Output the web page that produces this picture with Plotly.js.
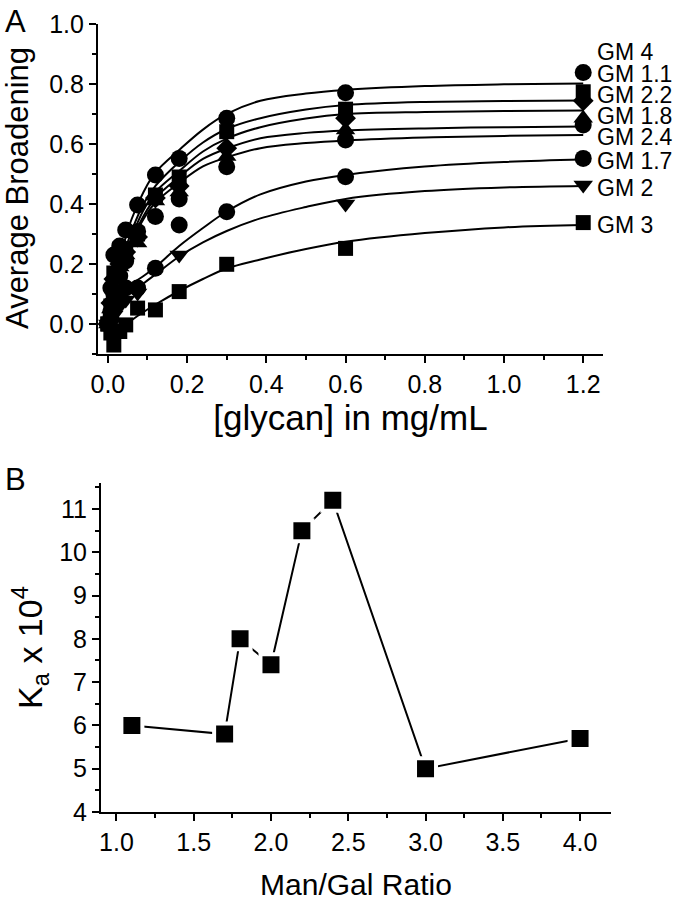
<!DOCTYPE html>
<html lang="en">
<head>
<meta charset="UTF-8">
<title>Glycan broadening and Ka</title>
<script src="https://cdn.plot.ly/plotly-3.0.1.min.js"></script>
<style>
  body { margin: 0; background: white; }
  #chart { width: 680px; height: 901px; }
</style>
</head>
<body>
<div id="chart"></div>
<script>
// Panel A: glycan concentration (mg/mL) vs average broadening
const conc = [0, 0.0075, 0.015, 0.03, 0.045, 0.075, 0.12, 0.18, 0.3, 0.6, 1.2];
const seriesNames = ['GM 4', 'GM 1.1', 'GM 2.2', 'GM 1.8', 'GM 2.4', 'GM 1.7', 'GM 2', 'GM 3'];
const gm4  = [0.0, 0.12, 0.23, 0.26, 0.313, 0.397, 0.497, 0.552, 0.686, 0.771, 0.838];
const gm11 = [0.0, 0.06, 0.17, 0.25, 0.25, 0.30, 0.43, 0.49, 0.641, 0.716, 0.774];
const gm22 = [0.0, 0.07, 0.15, 0.20, 0.24, 0.29, 0.42, 0.46, 0.586, 0.686, 0.744];
const gm18 = [0.0, 0.05, 0.12, 0.19, 0.23, 0.27, 0.41, 0.44, 0.558, 0.647, 0.686];
const gm24 = [0.0, 0.04, 0.10, 0.16, 0.21, 0.308, 0.358, 0.417, 0.524, 0.613, 0.663];
const gm17 = [0.0, 0.02, 0.06, 0.09, 0.12, 0.12, 0.186, 0.33, 0.374, 0.491, 0.552];
const gm2  = [0.0, 0.0, 0.03, 0.06, 0.08, 0.103, null, 0.23, null, 0.40, 0.463];
const gm3  = [0.0, -0.03, -0.07, -0.025, -0.003, 0.053, 0.047, 0.108, 0.199, 0.252, 0.338];

// fitted curves
const fitX    = [0.03, 0.06, 0.09, 0.12, 0.18, 0.24, 0.3, 0.385, 0.5, 0.6, 0.8, 1.0, 1.2];
const fitGm4  = [0.22, 0.35, 0.44, 0.505, 0.58, 0.648, 0.70, 0.744, 0.768, 0.78, 0.793, 0.799, 0.802];
const fitGm11 = [0.19, 0.31, 0.40, 0.46, 0.54, 0.605, 0.65, 0.686, 0.715, 0.73, 0.74, 0.743, 0.745];
const fitGm22 = [0.18, 0.29, 0.38, 0.44, 0.51, 0.575, 0.618, 0.656, 0.685, 0.70, 0.707, 0.71, 0.712];
const fitGm18 = [0.17, 0.28, 0.36, 0.42, 0.49, 0.55, 0.585, 0.619, 0.637, 0.645, 0.652, 0.656, 0.658];
const fitGm24 = [0.16, 0.27, 0.35, 0.405, 0.47, 0.525, 0.555, 0.586, 0.603, 0.612, 0.622, 0.627, 0.63];
const fitGm17 = [null, 0.135, 0.16, 0.19, 0.26, 0.32, 0.375, 0.432, 0.475, 0.497, 0.525, 0.54, 0.548];
const fitGm2  = [null, 0.10, 0.135, 0.165, 0.225, 0.272, 0.31, 0.352, 0.39, 0.417, 0.443, 0.455, 0.46];
const fitGm3  = [null, 0.013, 0.04, 0.065, 0.11, 0.15, 0.185, 0.215, 0.25, 0.274, 0.303, 0.322, 0.33];

// Panel B: Man/Gal ratio vs Ka x 10^4
const ratio = [1.1, 1.7, 1.8, 2.0, 2.2, 2.4, 3.0, 4.0];
const ka = [6.0, 5.8, 8.0, 7.4, 10.5, 11.2, 5.0, 5.7];

const points = [gm4, gm11, gm22, gm18, gm24, gm17, gm2, gm3];
const fits = [fitGm4, fitGm11, fitGm22, fitGm18, fitGm24, fitGm17, fitGm2, fitGm3];
const symbols = ['circle', 'square', 'diamond', 'triangle-up', 'circle', 'circle', 'triangle-down', 'square'];
const sizes = [17, 15, 16, 17, 17, 17, 17, 15];
const labelY = [0.907, 0.833, 0.763, 0.693, 0.623, 0.543, 0.453, 0.33];

const FONT = 'Liberation Sans, Arial, sans-serif';
const traces = [];

fits.forEach(function(f) {
  traces.push({
    x: fitX, y: f, mode: 'lines', xaxis: 'x', yaxis: 'y',
    line: { color: 'black', width: 2, shape: 'spline' },
    hoverinfo: 'skip', showlegend: false
  });
});

points.forEach(function(p, i) {
  traces.push({
    x: conc, y: p, mode: 'markers', name: seriesNames[i], xaxis: 'x', yaxis: 'y',
    marker: { symbol: symbols[i], size: sizes[i], color: 'black' },
    cliponaxis: false, showlegend: false
  });
});

traces.push({
  x: ratio, y: ka, mode: 'lines+markers', xaxis: 'x2', yaxis: 'y2',
  line: { color: 'black', width: 2 },
  marker: { symbol: 'square', size: 21, color: 'black', line: { color: 'white', width: 4 } },
  cliponaxis: false, showlegend: false
});

function axisStyle(extra) {
  const base = {
    showline: true, linecolor: 'black', linewidth: 2,
    ticks: 'outside', ticklen: 7, tickwidth: 2, tickcolor: 'black',
    showgrid: false, zeroline: false,
    tickfont: { family: FONT, size: 25, color: 'black' }
  };
  return Object.assign(base, extra);
}

const annotations = seriesNames.map(function(n, i) {
  return {
    text: n, x: 1.2, y: labelY[i], xref: 'x', yref: 'y',
    xanchor: 'left', yanchor: 'middle', xshift: 12, showarrow: false,
    font: { family: FONT, size: 23, color: 'black' }
  };
});
annotations.push({ text: 'A', x: 0.004, y: 0.998, xref: 'paper', yref: 'paper', xanchor: 'left', yanchor: 'top',
  showarrow: false, font: { family: FONT, size: 31, color: 'black' } });
annotations.push({ text: 'B', x: 0.004, y: 0.49, xref: 'paper', yref: 'paper', xanchor: 'left', yanchor: 'top',
  showarrow: false, font: { family: FONT, size: 31, color: 'black' } });
// y title of panel A, placed by hand to sit close to the page edge
annotations.push({ text: 'Average Broadening', x: 0.026, y: 0.791, xref: 'paper', yref: 'paper',
  xanchor: 'center', yanchor: 'middle', textangle: -90, showarrow: false,
  font: { family: FONT, size: 31, color: 'black' } });

const layout = {
  width: 680, height: 901,
  margin: { l: 0, r: 0, t: 0, b: 0 },
  paper_bgcolor: 'white', plot_bgcolor: 'white',
  font: { family: FONT, color: 'black' },
  xaxis: axisStyle({
    domain: [0.1441, 0.8868], anchor: 'y', range: [-0.025, 1.25],
    tick0: 0, dtick: 0.2, tickformat: '.1f',
    minor: { ticks: 'outside', ticklen: 4, tickwidth: 2, tickcolor: 'black', dtick: 0.1 },
    title: { text: '[glycan] in mg/mL', font: { family: FONT, size: 35 }, standoff: 8 }
  }),
  yaxis: axisStyle({
    domain: [0.6071, 0.9734], anchor: 'x', range: [-0.1, 1.0],
    tick0: 0, dtick: 0.2, tickformat: '.1f',
    minor: { ticks: 'outside', ticklen: 4, tickwidth: 2, tickcolor: 'black', dtick: 0.1 }
  }),
  xaxis2: axisStyle({
    domain: [0.1485, 0.8985], anchor: 'y2', range: [0.9, 4.2],
    tick0: 0, dtick: 0.5, tickformat: '.1f',
    minor: { ticks: 'outside', ticklen: 4, tickwidth: 2, tickcolor: 'black', dtick: 0.25 },
    title: { text: 'Man/Gal Ratio', font: { family: FONT, size: 30 }, standoff: 20 }
  }),
  yaxis2: axisStyle({
    domain: [0.0988, 0.4639], anchor: 'x2', range: [4, 11.6],
    tick0: 0, dtick: 1,
    minor: { ticks: 'outside', ticklen: 4, tickwidth: 2, tickcolor: 'black', dtick: 0.5 },
    title: { text: 'K<sub>a</sub> x 10<sup>4</sup>', font: { family: FONT, size: 34 }, standoff: 6 }
  }),
  annotations: annotations
};

Plotly.newPlot('chart', traces, layout, { displayModeBar: false, staticPlot: true });
</script>
</body>
</html>
